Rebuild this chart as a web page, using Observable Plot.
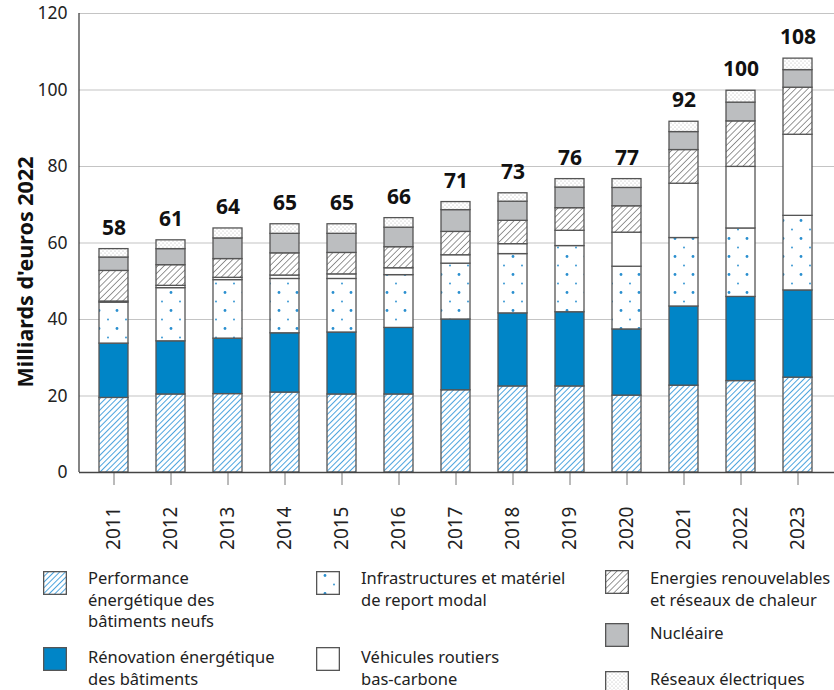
<!DOCTYPE html>
<html>
<head>
<meta charset="utf-8">
<script src="https://cdn.jsdelivr.net/npm/d3@7"></script>
<script src="https://cdn.jsdelivr.net/npm/@observablehq/plot@0.6"></script>
<style>
  body { margin: 0; background: #fff; font-family: "Noto Sans", sans-serif; }
  #wrap { position: relative; width: 834px; height: 690px; overflow: hidden; }
  #chart { position: absolute; left: 0; top: 0; }
  .lg-sw { position: absolute; width: 24px; height: 24px; }
  .lg-tx { position: absolute; font-size: 16.5px; line-height: 21.5px; color: #222; white-space: nowrap; }
</style>
</head>
<body>
<div id="wrap">
  <svg width="0" height="0" style="position:absolute">
    <defs>
      <pattern id="p-perf" patternUnits="userSpaceOnUse" width="4" height="4" patternTransform="rotate(45)">
        <rect width="4" height="4" fill="#fff"/>
        <line x1="0" y1="0" x2="0" y2="4" stroke="#1f8dd6" stroke-width="1.6"/>
      </pattern>
      <pattern id="p-enr" patternUnits="userSpaceOnUse" width="4.4" height="4.4" patternTransform="rotate(45)">
        <rect width="4.4" height="4.4" fill="#fff"/>
        <line x1="0" y1="0" x2="0" y2="4.4" stroke="#444" stroke-width="1.1"/>
      </pattern>
      <pattern id="p-infra" patternUnits="userSpaceOnUse" width="18" height="18">
        <rect width="18" height="18" fill="#fff"/>
        <circle cx="9" cy="4.5" r="1.4" fill="#2a8fcf"/>
        <circle cx="0" cy="13.5" r="0.9" fill="#2a8fcf"/>
        <circle cx="18" cy="13.5" r="0.9" fill="#2a8fcf"/>
      </pattern>
      <pattern id="p-res" patternUnits="userSpaceOnUse" width="4" height="4">
        <rect width="4" height="4" fill="#fff"/>
        <circle cx="1" cy="1" r="0.5" fill="#a0a0a0"/>
        <circle cx="3" cy="3" r="0.5" fill="#a0a0a0"/>
      </pattern>
    </defs>
  </svg>
  <div id="chart"></div>
  <div id="legend"></div>
</div>
<script>
const years = ["2011","2012","2013","2014","2015","2016","2017","2018","2019","2020","2021","2022","2023"];
const perfNeufs       = [19.5, 20.4, 20.5, 20.9, 20.4, 20.4, 21.5, 22.5, 22.5, 20.1, 22.7, 23.9, 24.8];
const renovation      = [14.2, 13.9, 14.5, 15.5, 16.2, 17.4, 18.5, 19.1, 19.4, 17.3, 20.7, 22.0, 22.8];
const infrastructures = [10.7, 13.9, 15.3, 14.2, 14.0, 13.8, 14.6, 15.5, 17.3, 16.4, 17.9, 17.9, 19.5];
const vehicules       = [0.3, 0.6, 0.6, 0.9, 1.2, 1.8, 2.2, 2.6, 4.0, 8.9, 14.2, 16.1, 21.2];
const renouvelables   = [8.0, 5.4, 4.9, 5.8, 5.6, 5.5, 6.1, 6.1, 5.9, 6.9, 8.8, 11.9, 12.3];
const nucleaire       = [3.5, 4.2, 5.4, 5.1, 5.0, 5.1, 5.7, 5.0, 5.4, 4.8, 4.7, 4.9, 4.6];
const reseaux         = [2.2, 2.3, 2.6, 2.5, 2.5, 2.5, 2.1, 2.2, 2.2, 2.3, 2.7, 3.1, 3.0];
const totals          = [58, 61, 64, 65, 65, 66, 71, 73, 76, 77, 92, 100, 108];
const yTicks = [0, 20, 40, 60, 80, 100, 120];

const seriesNames = [
  "Performance énergétique des bâtiments neufs",
  "Rénovation énergétique des bâtiments",
  "Infrastructures et matériel de report modal",
  "Véhicules routiers bas-carbone",
  "Energies renouvelables et réseaux de chaleur",
  "Nucléaire",
  "Réseaux électriques"
];
const seriesValues = [perfNeufs, renovation, infrastructures, vehicules, renouvelables, nucleaire, reseaux];
const seriesFills = ["url(#p-perf)", "#0085c7", "url(#p-infra)", "#ffffff", "url(#p-enr)", "#bcbec0", "url(#p-res)"];
const legendLabels = [
  "Performance<br>énergétique des<br>bâtiments neufs",
  "Rénovation énergétique<br>des bâtiments",
  "Infrastructures et matériel<br>de report modal",
  "Véhicules routiers<br>bas-carbone",
  "Energies renouvelables<br>et réseaux de chaleur",
  "Nucléaire",
  "Réseaux électriques"
];

const rows = [];
seriesNames.forEach((s, si) => years.forEach((y, i) => rows.push({year: y, series: s, value: seriesValues[si][i]})));
const stackTops = years.map((y, i) => d3.sum(seriesValues, v => v[i]));

const leftLine = (index, scales, values, dimensions) => {
  const g = document.createElementNS("http://www.w3.org/2000/svg", "line");
  g.setAttribute("x1", dimensions.marginLeft);
  g.setAttribute("x2", dimensions.marginLeft);
  g.setAttribute("y1", scales.y(120));
  g.setAttribute("y2", scales.y(0));
  g.setAttribute("stroke", "#333");
  g.setAttribute("stroke-width", "1.2");
  return g;
};

const chart = Plot.plot({
  width: 834,
  height: 556,
  marginLeft: 79,
  marginRight: 0,
  marginTop: 13,
  marginBottom: 84,
  style: {fontFamily: "'Noto Sans', sans-serif", background: "transparent"},
  x: {domain: years, range: [79, 831], paddingInner: 0.5, paddingOuter: 0.25},
  y: {domain: [0, 120]},
  color: {domain: seriesNames, range: seriesFills},
  marks: [
    Plot.ruleY(yTicks.filter(d => d > 0), {stroke: "#c4c4c4", strokeWidth: 1.2}),
    Plot.axisY({ticks: yTicks, tickSize: 0, tickPadding: 12, fontSize: 17.5, fill: "#222", label: null}),
    Plot.axisX({tickSize: 13, tickPadding: 21, tickRotate: -90, fontSize: 19, fill: "#222", stroke: "#777", label: null}),
    Plot.barY(rows, Plot.stackY({x: "year", y: "value", fill: "series", stroke: "#555", strokeWidth: 1.3})),
    Plot.ruleY([0], {stroke: "#444", strokeWidth: 1.3}),
    leftLine,
    Plot.text(years, {x: d => d, y: (d, i) => stackTops[i], text: (d, i) => String(totals[i]), dy: -21, fontSize: 21, fontWeight: "bold", fill: "#111"}),
    Plot.text(["Milliards d'euros 2022"], {frameAnchor: "left", textAnchor: "middle", rotate: -90, dx: -53, dy: 29, fontSize: 21.5, letterSpacing: 0.3, fontWeight: "bold", fill: "#111"})
  ]
});
document.getElementById("chart").appendChild(chart);

// legend
const pos = [
  {sx: 43, sy: 571, tx: 88, ty: 567},
  {sx: 43, sy: 647, tx: 88, ty: 646},
  {sx: 316, sy: 571, tx: 361, ty: 567},
  {sx: 316, sy: 647, tx: 361, ty: 646},
  {sx: 605, sy: 570, tx: 650, ty: 567},
  {sx: 605, sy: 623, tx: 650, ty: 622},
  {sx: 605, sy: 671, tx: 650, ty: 668}
];
const lg = document.getElementById("legend");
seriesNames.forEach((s, i) => {
  const p = pos[i];
  const sw = document.createElement("div");
  sw.className = "lg-sw";
  sw.style.left = p.sx + "px"; sw.style.top = p.sy + "px";
  sw.innerHTML = `<svg width="24" height="24"><rect x="0.65" y="0.65" width="22.7" height="22.7" fill="${seriesFills[i]}" stroke="#555" stroke-width="1.3"/></svg>`;
  lg.appendChild(sw);
  const tx = document.createElement("div");
  tx.className = "lg-tx";
  tx.style.left = p.tx + "px"; tx.style.top = p.ty + "px";
  tx.innerHTML = legendLabels[i];
  lg.appendChild(tx);
});
</script>
</body>
</html>
